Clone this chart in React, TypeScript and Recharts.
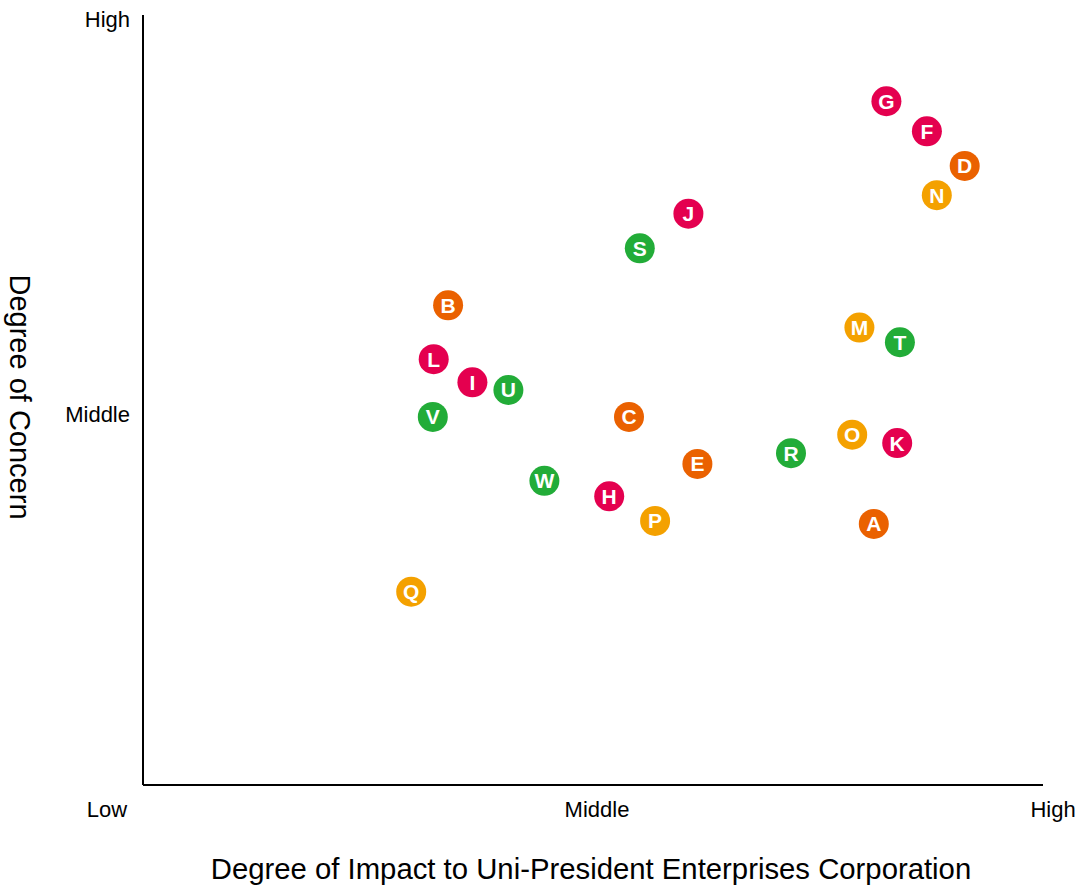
import React from 'react';
import { ScatterChart, Scatter, XAxis, YAxis } from 'recharts';

// Risk items: code, impact (x, 0-100), concern (y, 0-100), colour group
const riskCodes = ['A','B','C','D','E','F','G','H','I','J','K','L','M','N','O','P','Q','R','S','T','U','V','W'];
const impactValues = [81.2, 33.9, 54.0, 91.3, 61.6, 87.1, 82.6, 51.8, 36.6, 60.6, 83.8, 32.3, 79.6, 88.2, 78.8, 56.9, 29.8, 72.0, 55.2, 84.1, 40.6, 32.2, 44.6];
const concernValues = [33.9, 62.3, 47.8, 80.4, 41.7, 84.9, 88.8, 37.5, 52.3, 74.2, 44.4, 55.3, 59.4, 76.6, 45.5, 34.3, 25.1, 43.1, 69.7, 57.5, 51.3, 47.8, 39.5];
const riskGroups = ['orange','orange','orange','orange','orange','red','red','red','red','red','red','red','yellow','yellow','yellow','yellow','yellow','green','green','green','green','green','green'];

const groupNames = ['red', 'orange', 'yellow', 'green'];
const groupColors: Record<string, string> = {
  red: '#E4004F',
  orange: '#EA6100',
  yellow: '#F4A100',
  green: '#22AC38',
};

const xTickValues = [0, 50, 100];
const xTickLabels = ['Low', 'Middle', 'High'];
const yTickValues = [50, 100];
const yTickLabels = ['Middle', 'High'];

const xTitle = 'Degree of Impact to Uni-President Enterprises Corporation';
const yTitle = 'Degree of Concern';

// Table built per colour group for the chart
const seriesData = groupNames.map((g) => ({
  name: g,
  points: riskCodes
    .map((code, i) => ({ code, impact: impactValues[i], concern: concernValues[i], group: riskGroups[i] }))
    .filter((p) => p.group === g),
}));

const FONT = '"Liberation Sans", Arial, Helvetica, sans-serif';

// label nudges for the axis tick texts
const xTickShift: Record<number, number> = { 0: -36, 50: 4, 100: 10 };
const yTickShift: Record<number, number> = { 100: 4, 50: 14 };

const XTick = (props: any) => {
  const { x, y, payload } = props;
  const idx = xTickValues.indexOf(payload.value);
  return (
    <text x={x + (xTickShift[payload.value] ?? 0)} y={y + 32} textAnchor="middle" fontFamily={FONT} fontSize={22} fill="#000">
      {xTickLabels[idx]}
    </text>
  );
};

const YTick = (props: any) => {
  const { x, y, payload } = props;
  const idx = yTickValues.indexOf(payload.value);
  return (
    <text x={x - 13} y={y + (yTickShift[payload.value] ?? 0) + 8} textAnchor="end" fontFamily={FONT} fontSize={22} fill="#000">
      {yTickLabels[idx]}
    </text>
  );
};

const Badge = (props: any) => {
  const { cx, cy, payload, fill } = props;
  if (cx == null || cy == null) return null;
  return (
    <g>
      <circle cx={cx} cy={cy} r={15} fill={fill} />
      <text
        x={cx}
        y={cy + 7.5}
        textAnchor="middle"
        fontFamily={FONT}
        fontWeight="bold"
        fontSize={21}
        fill="#fff"
      >
        {payload.code}
      </text>
    </g>
  );
};

const XTitle = (props: any) => {
  const vb = props.viewBox || {};
  return (
    <text x={vb.x + vb.width / 2 - 2} y={879} textAnchor="middle" fontFamily={FONT} fontSize={29.3} fill="#000">
      {xTitle}
    </text>
  );
};

const YTitle = (props: any) => {
  const vb = props.viewBox || {};
  const cx = 20;
  const cy = vb.y + vb.height / 2 - 3;
  return (
    <text
      x={cx}
      y={cy}
      transform={`rotate(90, ${cx}, ${cy})`}
      textAnchor="middle"
      dominantBaseline="central"
      fontFamily={FONT}
      fontSize={29}
      fill="#000"
    >
      {yTitle}
    </text>
  );
};

export default function App() {
  return (
    <div style={{ position: 'absolute', left: 0, top: 0, width: 1079, height: 886, background: '#fff' }}>
      <ScatterChart width={1079} height={886} margin={{ top: 15, right: 36, left: 0, bottom: 0 }}>
        <XAxis
          type="number"
          dataKey="impact"
          domain={[0, 100]}
          ticks={xTickValues}
          height={101}
          tickSize={0}
          tickMargin={0}
          tick={<XTick />}
          axisLine={{ stroke: '#000', strokeWidth: 2 }}
          tickLine={false}
          label={<XTitle />}
        />
        <YAxis
          type="number"
          dataKey="concern"
          domain={[0, 100]}
          ticks={yTickValues}
          width={143}
          tickSize={0}
          tickMargin={0}
          tick={<YTick />}
          axisLine={{ stroke: '#000', strokeWidth: 2 }}
          tickLine={false}
          label={<YTitle />}
        />
        {seriesData.map((s) => (
          <Scatter
            key={s.name}
            name={s.name}
            data={s.points}
            fill={groupColors[s.name]}
            shape={<Badge />}
            isAnimationActive={false}
          />
        ))}
      </ScatterChart>
    </div>
  );
}
